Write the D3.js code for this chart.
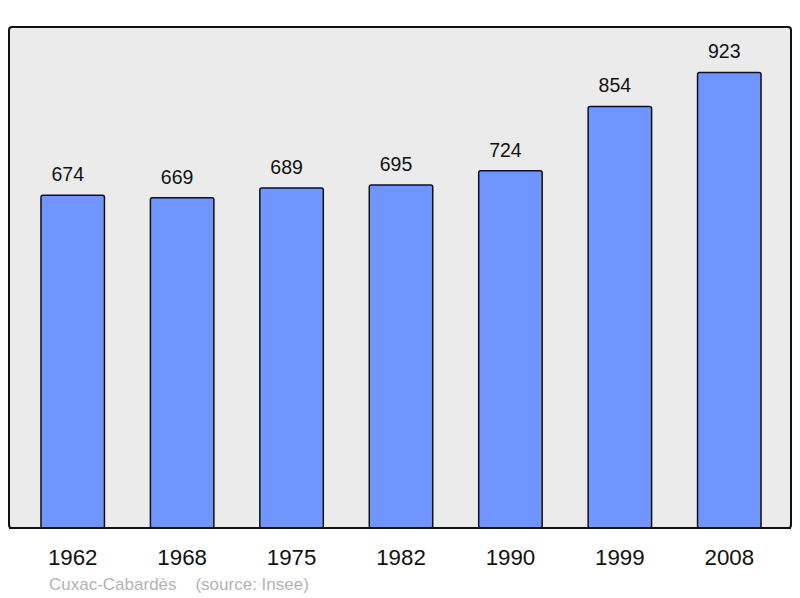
<!DOCTYPE html>
<html><head><meta charset="utf-8">
<script src="https://cdn.jsdelivr.net/npm/d3@7"></script>
<style>body{margin:0;background:#fff}svg{display:block;font-family:"Liberation Sans",Arial,sans-serif}</style>
</head><body><svg id="c" width="800" height="598"></svg>
<script>
const years = ["1962","1968","1975","1982","1990","1999","2008"];
const population = [674,669,689,695,724,854,923];
const caption = "Cuxac-Cabardès    (source: Insee)";

const svg = d3.select("#c");
const x = d3.scaleBand().domain(years).range([18,784]).paddingInner(0.42).paddingOuter(0.21);
const y = d3.scaleLinear().domain([0,1013]).range([528,28]);

svg.append("rect").attr("x",9).attr("y",27).attr("width",782).attr("height",501)
  .attr("rx",3).attr("fill","#ebebeb").attr("stroke","#111").attr("stroke-width",2);

svg.selectAll("rect.bar").data(population).enter().append("rect").attr("class","bar")
  .attr("x",(d,i)=>x(years[i])).attr("width",x.bandwidth())
  .attr("y",d=>y(d)).attr("height",d=>y(0)-y(d))
  .attr("rx",2).attr("fill","#7095ff").attr("stroke","#111").attr("stroke-width",1.5);

svg.selectAll("text.val").data(population).enter().append("text").attr("class","val")
  .attr("x",(d,i)=>x(years[i])+x.bandwidth()/2 - 5).attr("y",d=>y(d)-14)
  .attr("text-anchor","middle").attr("font-size",19.5).attr("fill","#111").text(d=>d);

const ax = svg.append("g").attr("transform","translate(0,528)")
  .call(d3.axisBottom(x).tickSize(0).tickPadding(0));
ax.select(".domain").remove();
ax.selectAll("text").attr("dy",null).attr("y",37).attr("font-size",22.3).attr("fill","#111")
  .attr("font-family","Liberation Sans, Arial, sans-serif");

svg.append("text").attr("x",49).attr("y",590).attr("font-size",17).attr("fill","#b3b3b3")
  .attr("xml:space","preserve").style("white-space","pre").text(caption);

svg.append("line").attr("x1",9).attr("x2",791).attr("y1",528).attr("y2",528).attr("stroke","#111").attr("stroke-width",2);
</script></body></html>
